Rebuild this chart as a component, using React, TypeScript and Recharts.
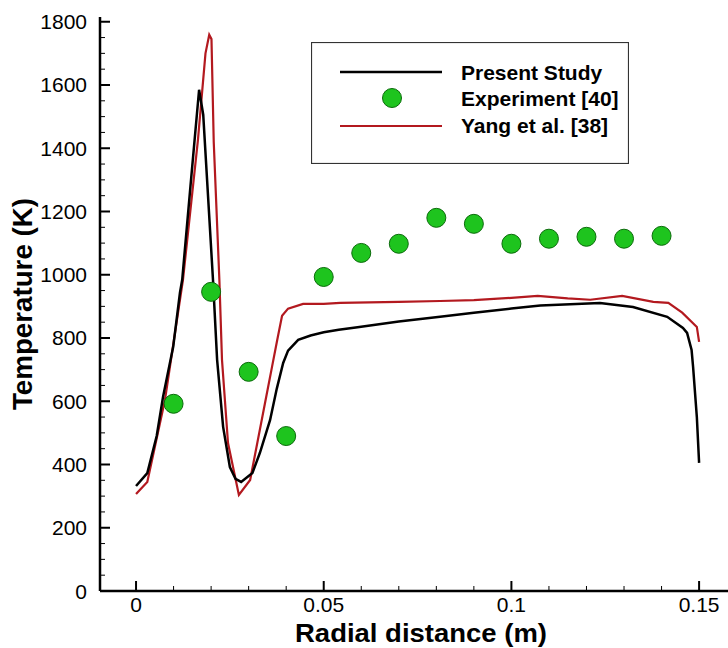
import React from 'react';
import { ComposedChart, Line, Scatter, XAxis, YAxis, Legend, Label } from 'recharts';

const FONT = '"Liberation Sans", Arial, Helvetica, sans-serif';

// Present Study (black line)
const PRESENT_X = [0, 0.003, 0.0055, 0.0072, 0.0099, 0.0117, 0.0123, 0.0145, 0.0168, 0.0179, 0.0205, 0.0216, 0.0232, 0.025, 0.0265, 0.028, 0.031, 0.033, 0.0357, 0.0375, 0.0392, 0.0405, 0.0432, 0.0465, 0.05, 0.054, 0.059, 0.07, 0.081, 0.09, 0.1, 0.1077, 0.1236, 0.1324, 0.1415, 0.1457, 0.1468, 0.148, 0.1484, 0.1494, 0.15];
const PRESENT_T = [332, 373, 490, 614, 772, 943, 984, 1280, 1585, 1506, 984, 731, 519, 392, 355, 345, 373, 437, 540, 640, 721, 760, 794, 808, 818, 826, 834, 852, 867, 880, 893, 903, 911, 898, 867, 832, 816, 762, 709, 550, 405];

// Yang et al. [38] (red line)
const YANG_X = [0, 0.003, 0.0077, 0.0125, 0.0165, 0.0185, 0.0195, 0.0201, 0.0207, 0.0222, 0.0229, 0.0245, 0.0274, 0.0304, 0.0344, 0.0362, 0.0376, 0.0389, 0.0405, 0.0445, 0.05, 0.0544, 0.07, 0.081, 0.09, 0.1, 0.107, 0.115, 0.121, 0.1295, 0.1378, 0.1418, 0.1455, 0.1494, 0.15];
const YANG_T = [307, 345, 604, 984, 1427, 1700, 1759, 1745, 1420, 984, 731, 468, 304, 351, 597, 707, 793, 870, 893, 908, 908, 911, 914, 917, 920, 927, 933, 925, 921, 933, 914, 911, 880, 835, 788];

// Experiment [40] (green circles)
const EXP_X = [0.01, 0.02, 0.03, 0.04, 0.05, 0.06, 0.07, 0.08, 0.09, 0.1, 0.11, 0.12, 0.13, 0.14];
const EXP_T = [592, 946, 693, 490, 993, 1069, 1098, 1180, 1161, 1098, 1114, 1120, 1114, 1123];

const X_TICKS = [0, 0.01, 0.02, 0.03, 0.04, 0.05, 0.06, 0.07, 0.08, 0.09, 0.1, 0.11, 0.12, 0.13, 0.14, 0.15];
const X_MAJOR = [0, 0.05, 0.1, 0.15];
const X_MAJOR_LABELS = ['0', '0.05', '0.1', '0.15'];
const Y_TICKS = [0, 50, 100, 150, 200, 250, 300, 350, 400, 450, 500, 550, 600, 650, 700, 750, 800, 850, 900, 950, 1000, 1050, 1100, 1150, 1200, 1250, 1300, 1350, 1400, 1450, 1500, 1550, 1600, 1650, 1700, 1750, 1800];

const SERIES_NAMES = ['Present Study', 'Experiment [40]', 'Yang et al. [38]'];

const presentData = PRESENT_X.map((x, i) => ({ x, t: PRESENT_T[i] }));
const yangData = YANG_X.map((x, i) => ({ x, t: YANG_T[i] }));
const expData = EXP_X.map((x, i) => ({ x, t: EXP_T[i] }));

const GREEN = '#1ec41e';
const GREEN_EDGE = '#0b6b0b';
const RED = '#b3191f';

const XTick = (props: any) => {
  const { x, y, payload } = props;
  const v = payload.value;
  const idx = X_MAJOR.findIndex((m) => Math.abs(m - v) < 1e-9);
  const major = idx >= 0;
  return (
    <g>
      <line x1={x} x2={x} y1={y} y2={y - (major ? 10 : 5)} stroke="#000" strokeWidth={major ? 2 : 1} />
      {major && (
        <text x={x} y={y + 13} textAnchor="middle" dominantBaseline="central" fontSize={21} fontFamily={FONT} fill="#000">
          {X_MAJOR_LABELS[idx]}
        </text>
      )}
    </g>
  );
};

const YTick = (props: any) => {
  const { x, y, payload } = props;
  const v = payload.value;
  const major = v % 200 === 0;
  return (
    <g>
      <line x1={x} x2={x + (major ? 10 : 5)} y1={y} y2={y} stroke="#000" strokeWidth={major ? 2 : 1} />
      {major && (
        <text x={x - 13} y={y} textAnchor="end" dominantBaseline="central" fontSize={21} fontFamily={FONT} fill="#000">
          {v}
        </text>
      )}
    </g>
  );
};

const LegendBox = () => (
  <svg width={318} height={122} style={{ display: 'block' }}>
    <rect x={0.5} y={0.5} width={317} height={121} fill="#fff" stroke="#333" strokeWidth={1.2} />
    <line x1={29} x2={131} y1={30} y2={30} stroke="#000" strokeWidth={2.5} />
    <circle cx={81} cy={56} r={9.5} fill={GREEN} stroke={GREEN_EDGE} strokeWidth={1} />
    <line x1={29} x2={131} y1={84} y2={84} stroke={RED} strokeWidth={2.2} />
    {SERIES_NAMES.map((n, i) => (
      <text key={n} x={150} y={[30, 56, 83][i]} dominantBaseline="central" fontSize={21} fontWeight="bold" fontFamily={FONT} fill="#000">
        {n}
      </text>
    ))}
  </svg>
);

const ExpShape = (props: any) => {
  const { cx, cy } = props;
  if (cx == null || cy == null) return null;
  return <circle cx={cx} cy={cy} r={9.5} fill={GREEN} stroke={GREEN_EDGE} strokeWidth={1} />;
};

export default function App() {
  return (
    <div style={{ position: 'absolute', left: 0, top: 0, width: 728, height: 648, background: '#fff' }}>
      <ComposedChart width={728} height={648} margin={{ top: 17, right: 0, bottom: 0, left: 0 }}>
        <XAxis
          dataKey="x"
          type="number"
          domain={[-0.0096, 0.1577]}
          allowDataOverflow
          ticks={X_TICKS}
          interval={0}
          tickSize={0}
          tickMargin={0}
          tickLine={false}
          tick={<XTick />}
          axisLine={{ stroke: '#000', strokeWidth: 2.5 }}
          height={57}
        >
          <Label
            content={(p: any) => {
              const vb = p.viewBox || { x: 100, y: 591, width: 628 };
              return (
                <text x={vb.x + vb.width / 2 + 7} y={vb.y + 42} textAnchor="middle" dominantBaseline="central" fontSize={26} fontWeight="bold" fontFamily={FONT} fill="#000" textLength={252} lengthAdjust="spacingAndGlyphs">
                  Radial distance (m)
                </text>
              );
            }}
          />
        </XAxis>
        <YAxis
          type="number"
          domain={[0, 1815]}
          allowDataOverflow
          ticks={Y_TICKS}
          interval={0}
          tickSize={0}
          tickMargin={0}
          tickLine={false}
          tick={<YTick />}
          axisLine={{ stroke: '#000', strokeWidth: 2.5 }}
          width={100}
        >
          <Label
            content={(p: any) => {
              const vb = p.viewBox || { x: 0, y: 17, width: 100, height: 574 };
              const cx = 23;
              const cy = vb.y + vb.height / 2;
              return (
                <text x={cx} y={cy} transform={`rotate(-90 ${cx} ${cy})`} textAnchor="middle" dominantBaseline="central" fontSize={27} fontWeight="bold" fontFamily={FONT} fill="#000" textLength={212} lengthAdjust="spacingAndGlyphs">
                  Temperature (K)
                </text>
              );
            }}
          />
        </YAxis>
        <Line data={yangData} dataKey="t" type="linear" stroke={RED} strokeWidth={2.2} dot={false} isAnimationActive={false} name={SERIES_NAMES[2]} />
        <Line data={presentData} dataKey="t" type="linear" stroke="#000" strokeWidth={2.5} dot={false} isAnimationActive={false} name={SERIES_NAMES[0]} />
        <Scatter data={expData} dataKey="t" fill={GREEN} shape={<ExpShape />} isAnimationActive={false} name={SERIES_NAMES[1]} />
        <Legend
          layout="vertical"
          align="center"
          verticalAlign="middle"
          wrapperStyle={{ left: 311, top: 42, width: 318, height: 122 }}
          content={() => <LegendBox />}
        />
      </ComposedChart>
    </div>
  );
}
